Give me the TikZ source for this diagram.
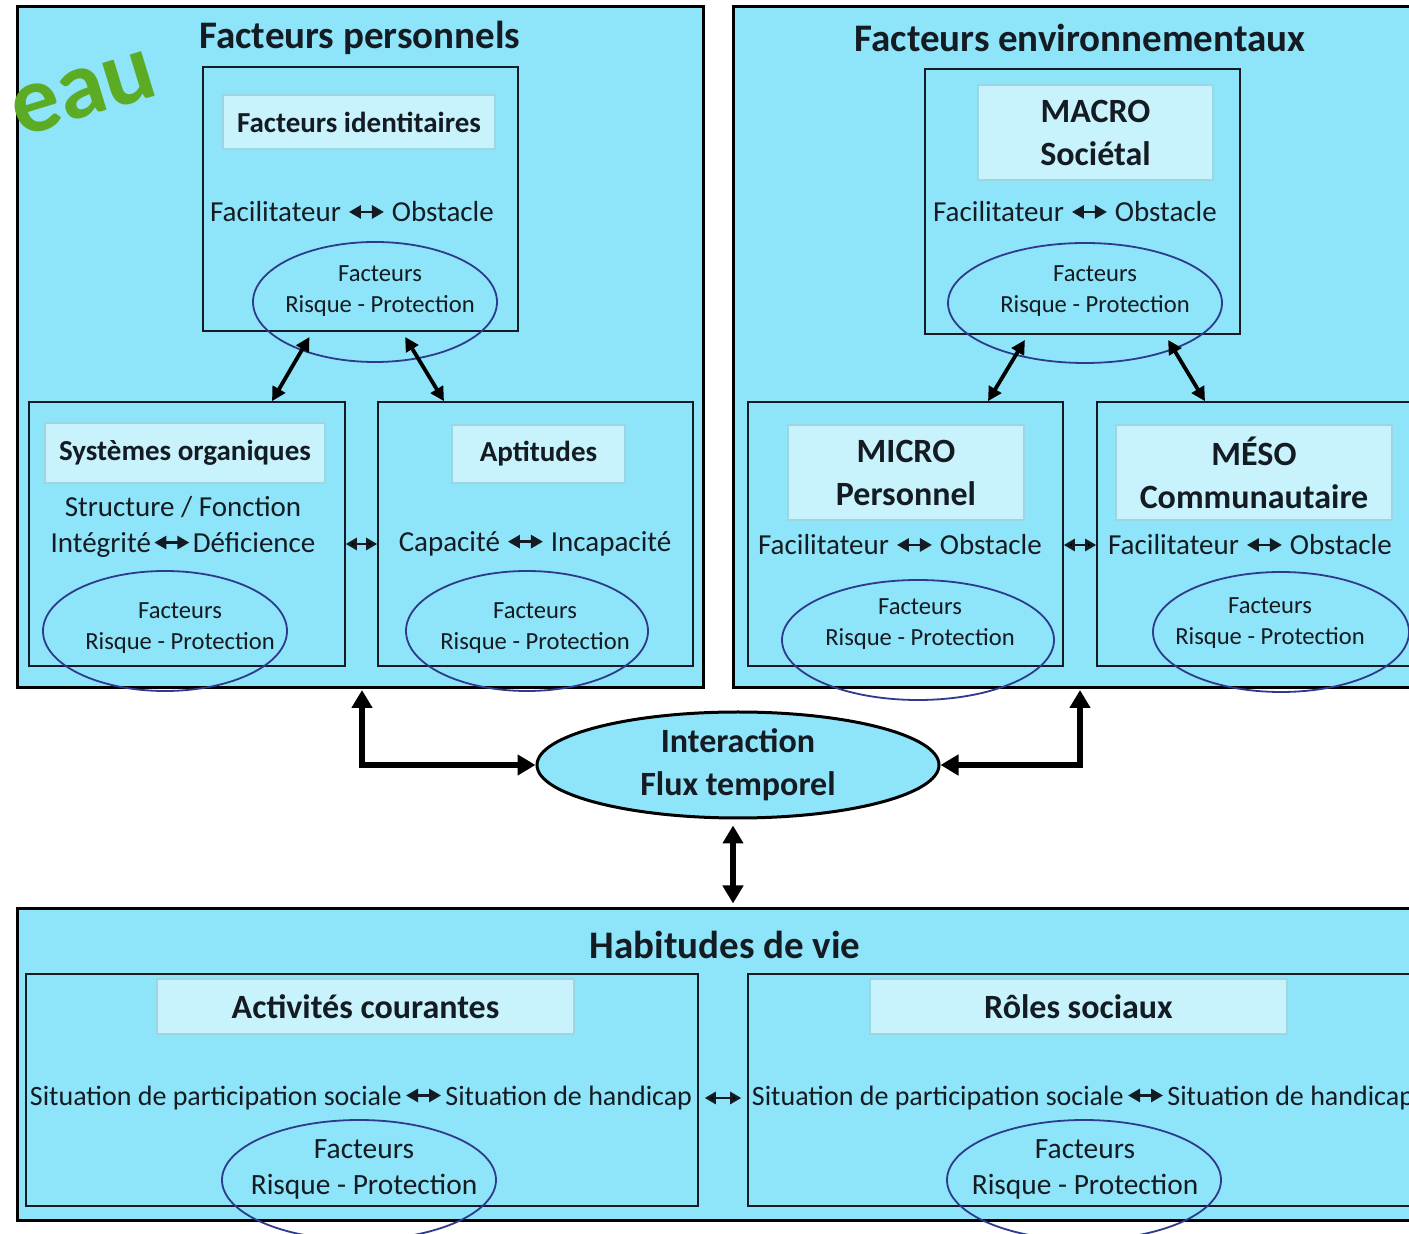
\documentclass[tikz,border=0pt]{standalone}
\usepackage{fontspec}
\setmainfont{Carlito}
\usetikzlibrary{positioning,arrows.meta,fit,shapes.geometric}
\definecolor{sky}{HTML}{8EE4F8}
\definecolor{skylt}{HTML}{C8F3FC}
\definecolor{skyln}{HTML}{9CD6E2}
\definecolor{ink}{HTML}{141B22}
\definecolor{ring}{HTML}{2E3A8C}
\definecolor{leaf}{HTML}{5CAB24}
\newcommand{\fhd}{\fontsize{19.5}{23}\selectfont\bfseries}
\newcommand{\fmid}{\fontsize{17}{21.5}\selectfont\bfseries}
\newcommand{\flb}{\fontsize{14.5}{18}\selectfont\bfseries}
\newcommand{\fbod}{\fontsize{14.5}{18}\selectfont}
\newcommand{\fbot}{\fontsize{14}{18}\selectfont}
\newcommand{\frp}{\fontsize{12.3}{15.5}\selectfont}
\newcommand{\frpb}{\fontsize{14.7}{18}\selectfont}
\newcommand{\lr}{\tikz[baseline=-5pt]\draw[lrtip] (0,0) -- (17.5pt,0);}
\tikzset{
  panel/.style ={draw=black, line width=1.5pt, fill=sky, inner sep=0pt},
  inbox/.style ={draw=ink, line width=.8pt, fill=sky, inner sep=0pt},
  lbl/.style   ={draw=skyln, line width=.6pt, fill=skylt, inner sep=0pt},
  lbltxt/.style={align=center, font=\flb},
  lblm/.style  ={align=center, font=\fmid},
  rp/.style    ={ellipse, draw=ring, line width=.9pt, inner sep=0pt, minimum height=60pt},
  rptxt/.style ={align=center, font=\frp},
  hd/.style    ={font=\fhd},
  inter/.style ={ellipse, draw=black, line width=1.5pt, fill=sky, inner sep=0pt, align=center,
                 minimum width=201pt, minimum height=53pt, font=\fmid},
  lnb/.style   ={draw=black, line width=2.6pt, {Triangle[length=9pt,width=10pt]}-{Triangle[length=9pt,width=10pt]}},
  lnm/.style   ={draw=black, line width=1.9pt, {Triangle[length=7pt,width=7pt]}-{Triangle[length=7pt,width=7pt]}, shorten <=3pt},
  lns/.style   ={draw=ink, line width=1.3pt, {Triangle[length=5.5pt,width=6pt]}-{Triangle[length=5.5pt,width=6pt]}},
  lrtip/.style ={draw=ink, line width=1.4pt, {Triangle[length=6pt,width=6.5pt]}-{Triangle[length=6pt,width=6.5pt]}},
}

\begin{document}
\begin{tikzpicture}[x=0.5pt,y=-0.5pt,font=\fbod,text=ink]
  \useasboundingbox (0,0) rectangle (1409,1234);
  \fill[white] (0,0) rectangle (1409,1234);

  % outer panels
  \node[panel, fit={(17,7)(703,688)}] (pers) {};
  \node[panel, fit={(733,7)(1419,688)}] (env) {};
  \node[panel, fit={(17,909)(1433,1220)}] (hab) {};
  \node[hd] (persT) at (360,38) {Facteurs personnels};
  \node[hd] (envT) at (1080,38) {Facteurs environnementaux};
  \node[hd] (habT) at (725,945) {Habitudes de vie};

  \node[font=\fontsize{48}{48}\selectfont\bfseries, text=leaf, rotate=17, anchor=base east] (niv) at (168,92) {eau};

  % personnels
  \node[inbox, fit={(203,67)(518,331)}] (ident) {};
  \node[lbl, fit={(223,95)(495,149)}] (identL) {};
  \node[lbltxt] (identN) at (identL) {Facteurs identitaires};
  \node (identQ) at (352,212) {Facilitateur \lr\ Obstacle};
  \node[rp, minimum width=122pt] (identR) at (375,302) {};
  \node[rptxt] (identF) at (380,291) {Facteurs\\Risque - Protection};

  \node[inbox, fit={(29,402)(345,666)}] (sys) {};
  \node[lbl, fit={(45,423)(325,483)}] (sysL) {};
  \node[lbltxt] (sysN) at (sysL) {Systèmes organiques};
  \node[align=center] (sysQ) at (183,527) {Structure / Fonction\\Intégrité\kern1pt\lr\kern1pt Déficience};
  \node[rp, minimum width=122pt] (sysR) at (165,631) {};
  \node[rptxt] (sysF) at (180,628) {Facteurs\\Risque - Protection};

  \node[inbox, fit={(378,402)(693,666)}] (apt) {};
  \node[lbl, fit={(452,425)(625,483)}] (aptL) {};
  \node[lbltxt] (aptN) at (aptL) {Aptitudes};
  \node (aptQ) at (535,544) {Capacité \lr\ Incapacité};
  \node[rp, minimum width=121pt] (aptR) at (527,631) {};
  \node[rptxt] (aptF) at (535,628) {Facteurs\\Risque - Protection};

  % environnementaux
  \node[inbox, fit={(925,69)(1240,334)}] (macro) {};
  \node[lbl, fit={(978,85)(1213,180)}] (macroL) {};
  \node[lblm] (macroN) at (macroL) {MACRO\\Sociétal};
  \node (macroQ) at (1075,212) {Facilitateur \lr\ Obstacle};
  \node[rp, minimum width=137pt] (macroR) at (1085,303) {};
  \node[rptxt] (macroF) at (1095,291) {Facteurs\\Risque - Protection};

  \node[inbox, fit={(748,402)(1063,666)}] (micro) {};
  \node[lbl, fit={(788,425)(1024,520)}] (microL) {};
  \node[lblm] (microN) at (microL) {MICRO\\Personnel};
  \node (microQ) at (900,545) {Facilitateur \lr\ Obstacle};
  \node[rp, minimum width=136pt] (microR) at (918,640) {};
  \node[rptxt] (microF) at (920,624) {Facteurs\\Risque - Protection};

  \node[inbox, fit={(1097,402)(1412,666)}] (meso) {};
  \node[lbl, fit={(1116,425)(1392,520)}] (mesoL) {};
  \node[lblm] (mesoN) at (mesoL) {MÉSO\\Communautaire};
  \node (mesoQ) at (1250,545) {Facilitateur \lr\ Obstacle};
  \node[rp, minimum width=128pt] (mesoR) at (1281,632) {};
  \node[rptxt] (mesoF) at (1270,623) {Facteurs\\Risque - Protection};

  % habitudes
  \node[inbox, fit={(26,974)(698,1206)}] (act) {};
  \node[lbl, fit={(157,979)(574,1034)}] (actL) {};
  \node[lblm] (actN) at (actL) {Activités courantes};
  \node[font=\fbot] (actQ) at (361,1098) {Situation de participation sociale\kern1.5pt\lr\kern1.5pt Situation de handicap};
  \node[rp, minimum width=137pt] (actR) at (359,1180) {};
  \node[rptxt, font=\frpb] (actF) at (364,1169) {Facteurs\\Risque - Protection};

  \node[inbox, fit={(748,974)(1420,1206)}] (roles) {};
  \node[lbl, fit={(870,979)(1287,1034)}] (rolesL) {};
  \node[lblm] (rolesN) at (rolesL) {Rôles sociaux};
  \node[font=\fbot] (rolesQ) at (1083,1098) {Situation de participation sociale\kern1.5pt\lr\kern1.5pt Situation de handicap};
  \node[rp, minimum width=137pt] (rolesR) at (1084,1180) {};
  \node[rptxt, font=\frpb] (rolesF) at (1085,1169) {Facteurs\\Risque - Protection};

  % interaction
  \node[inter] (inter) at (738,765) {Interaction\\Flux temporel};
  \coordinate (pk) at (362,690);
  \coordinate (ek) at (1080,690);
  \coordinate (hk) at (733,0);

  \draw[lnm] ([xshift=-24pt]ident.south) -- ([xshift=42.5pt]sys.north);
  \draw[lnm] ([xshift=20.75pt]ident.south) -- ([xshift=-45.75pt]apt.north);
  \draw[lnm] ([xshift=-27.25pt]macro.south) -- ([xshift=41.25pt]micro.north);
  \draw[lnm] ([xshift=41.25pt]macro.south) -- ([xshift=-24.75pt]meso.north);

  \draw[lns] (sys.east |- aptQ) -- (apt.west |- aptQ);
  \draw[lns] (micro.east |- microQ) -- (meso.west |- microQ);
  \draw[lns, shorten <=3pt, shorten >=3pt] (act.east |- actQ) -- (roles.west |- actQ);

  \draw[lnb] (pk) |- (inter.west);
  \draw[lnb] (ek) |- (inter.east);
  \draw[lnb, shorten <=3pt, shorten >=2pt] (hk |- inter.south) -- (hk |- hab.north);
\end{tikzpicture}
\end{document}
